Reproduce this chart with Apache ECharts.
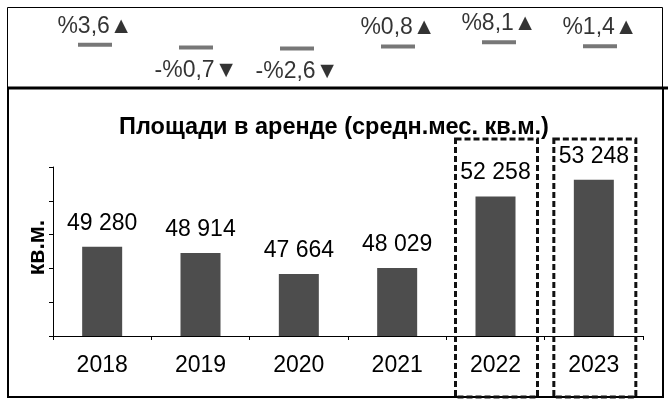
<!DOCTYPE html>
<html>
<head>
<meta charset="utf-8">
<script src="https://cdn.jsdelivr.net/npm/echarts@6/dist/echarts.min.js"></script>
<style>
  html, body { margin: 0; padding: 0; background: #fff; }
  #main { width: 668px; height: 400px; }
</style>
</head>
<body>
<div id="main"></div>
<script>
// данные графика
const years = ['2018', '2019', '2020', '2021', '2022', '2023'];
const areaValues = [49280, 48914, 47664, 48029, 52258, 53248];
const changePct = [3.6, -0.7, -2.6, 0.8, 8.1, 1.4];
const highlightYears = ['2022', '2023'];
const chartTitle = 'Площади в аренде (средн.мес. кв.м.)';
const unitName = 'кв.м.';

const FONT = '"Liberation Sans", Arial, sans-serif';

function fmtThousands(v) {
    return String(v).replace(/\B(?=(\d{3})+(?!\d))/g, ' ');
}
function fmtPct(v) {
    const s = Math.abs(v).toFixed(1).replace('.', ',');
    return (v < 0 ? '-%' + s + '▼' : '%' + s + '▲');
}

const chart = echarts.init(document.getElementById('main'), null, { renderer: 'canvas' });

// рамки страницы
const frameGraphics = [
    { id: 'topBox', type: 'rect', shape: { x: 7.5, y: 7.5, width: 655, height: 80 }, style: { fill: 'none', stroke: '#000', lineWidth: 1 } },
    { id: 'sepLine', type: 'line', shape: { x1: 7, y1: 88, x2: 668, y2: 88 }, style: { stroke: '#000', lineWidth: 3 } },
    { id: 'leftLine', type: 'line', shape: { x1: 8, y1: 88, x2: 8, y2: 398 }, style: { stroke: '#000', lineWidth: 2 } },
    { id: 'rightLine', type: 'line', shape: { x1: 663, y1: 88, x2: 663, y2: 398 }, style: { stroke: '#000', lineWidth: 2 } },
    { id: 'bottomLine', type: 'line', shape: { x1: 7, y1: 397, x2: 664, y2: 397 }, style: { stroke: '#000', lineWidth: 2 } }
];

chart.setOption({
    animation: false,
    backgroundColor: '#fff',
    textStyle: { fontFamily: FONT },
    title: {
        text: chartTitle,
        left: 'center',
        top: 111,
        textStyle: { fontFamily: FONT, fontSize: 23.5, fontWeight: 'bold', color: '#000' }
    },
    grid: [
        { left: 44.5, right: 17.5, top: 23, height: 48 },
        { left: 53, right: 25, top: 167, bottom: 64 }
    ],
    xAxis: [
        { gridIndex: 0, type: 'category', data: years, show: false },
        {
            gridIndex: 1, type: 'category', data: years,
            axisLine: { lineStyle: { color: '#000', width: 1 } },
            axisTick: { show: true, length: 4, lineStyle: { color: '#000' } },
            axisLabel: { fontFamily: FONT, fontSize: 23, color: '#000', margin: 18 }
        }
    ],
    yAxis: [
        { gridIndex: 0, type: 'value', min: -40, max: 40, show: false },
        {
            gridIndex: 1, type: 'value', min: 44000, max: 54000, interval: 2000,
            name: unitName, nameLocation: 'middle', nameRotate: 90, nameGap: 4,
            nameTextStyle: { fontFamily: FONT, fontSize: 23, fontWeight: 'bold', color: '#000', padding: [0, 0, 0, 8] },
            axisLine: { show: true, lineStyle: { color: '#000', width: 1 } },
            axisTick: { show: true, length: 4, lineStyle: { color: '#000' } },
            axisLabel: { show: false },
            splitLine: { show: false }
        }
    ],
    series: [
        {
            type: 'scatter',
            xAxisIndex: 0, yAxisIndex: 0,
            symbol: 'rect',
            symbolSize: [34, 4],
            itemStyle: { color: '#555' },
            data: changePct.map(v => ({
                value: v,
                label: v < 0 ? { position: 'bottom', distance: 10 } : { position: 'top', distance: 5 }
            })),
            label: {
                show: true,
                fontFamily: FONT, fontSize: 23, color: '#000',
                formatter: p => fmtPct(p.value)
            }
        },
        {
            type: 'bar',
            xAxisIndex: 1, yAxisIndex: 1,
            barWidth: 40,
            itemStyle: { color: '#4d4d4d' },
            data: areaValues,
            label: {
                show: true, position: 'top', distance: 12,
                fontFamily: FONT, fontSize: 23, color: '#000',
                formatter: p => fmtThousands(p.value)
            }
        }
    ],
    graphic: frameGraphics
});

// пунктирные рамки вокруг выделенных лет — по позициям категорий оси
const boxGraphics = highlightYears.map((y, i) => {
    const cx = chart.convertToPixel({ xAxisIndex: 1 }, y);
    return {
        id: 'hl' + i, type: 'rect',
        shape: { x: cx - 40, y: 139, width: 82, height: 258 },
        style: { fill: 'none', stroke: '#111', lineWidth: 3, lineDash: [6, 3] },
        z: 10
    };
});
chart.setOption({ graphic: frameGraphics.concat(boxGraphics) });
</script>
</body>
</html>
